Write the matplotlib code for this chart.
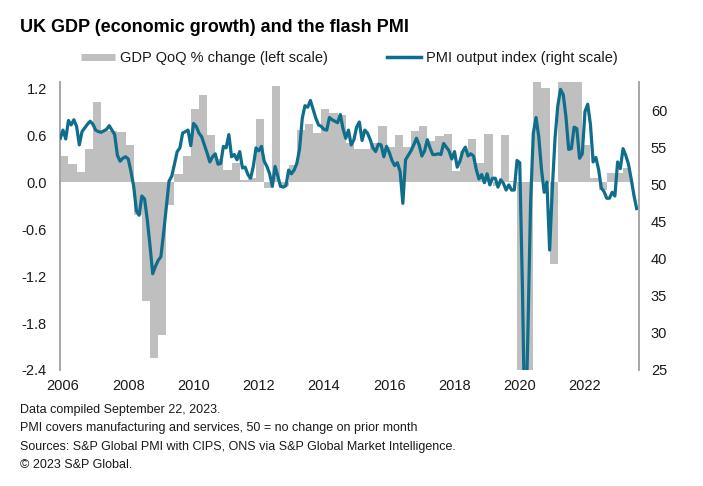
import matplotlib.pyplot as plt
from matplotlib.lines import Line2D

plt.rcParams['font.family'] = ['Liberation Sans', 'DejaVu Sans']

# GDP QoQ % change, quarterly from 2006 Q1 to 2023 Q2
gdp_start = 2006
gdp_qoq = [
    0.34, 0.23, 0.13, 0.43,      # 2006
    1.02, 0.65, 0.65, 0.64,      # 2007
    0.47, -0.42, -1.52, -2.25,   # 2008
    -1.95, -0.29, 0.10, 0.34,    # 2009
    0.93, 1.12, 0.60, 0.30,      # 2010
    0.15, 0.25, 0.03, 0.05,      # 2011
    0.81, -0.07, 1.23, -0.05,    # 2012
    0.22, 0.67, 0.74, 0.63,      # 2013
    0.93, 0.89, 0.86, 0.50,      # 2014
    0.42, 0.42, 0.50, 0.72,      # 2015
    0.45, 0.60, 0.45, 0.65,      # 2016
    0.72, 0.52, 0.59, 0.61,      # 2017
    0.14, 0.40, 0.55, 0.25,      # 2018
    0.62, -0.05, 0.60, 0.02,     # 2019
    -2.6, -21.0, 16.9, 1.20,     # 2020
    -1.05, 7.1, 1.7, 1.5,        # 2021
    0.48, 0.05, -0.10, 0.12,     # 2022
    0.12, 0.18,                  # 2023
]

# PMI output index, monthly from Jan 2006 to Sep 2023
pmi_start = 2006
pmi = [
    56.3, 57.4, 56.2, 58.7, 58.1, 58.8, 57.9, 55.4, 57.2, 57.7, 58.2, 58.6,  # 2006
    58.2, 57.4, 57.2, 57.1, 57.3, 57.5, 58.0, 57.4, 56.8, 54.0, 53.2, 53.6,  # 2007
    53.8, 53.5, 51.8, 49.8, 46.5, 45.9, 48.5, 48.1, 45.3, 41.8, 38.0, 39.0,  # 2008
    39.8, 40.3, 43.5, 47.0, 50.5, 51.2, 52.8, 54.5, 55.0, 57.0, 57.2, 57.4,  # 2009
    55.3, 58.3, 57.9, 57.0, 56.5, 55.4, 54.3, 53.1, 53.8, 54.2, 52.8, 52.9,  # 2010
    55.2, 55.0, 56.8, 53.8, 54.1, 53.4, 54.5, 52.3, 52.4, 51.4, 50.9, 52.5,  # 2011
    55.0, 54.6, 55.2, 53.2, 52.5, 51.5, 49.8, 52.5, 51.2, 49.8, 49.7, 49.9,  # 2012
    52.0, 51.5, 52.0, 52.9, 54.8, 59.0, 60.7, 60.5, 61.4, 60.2, 59.0, 58.1,  # 2013
    57.9, 57.5, 57.4, 59.1, 58.8, 58.6, 58.4, 59.5, 57.6, 56.3, 57.4, 55.4,  # 2014
    56.1, 57.8, 58.5, 56.0, 57.4, 57.0, 56.1, 55.0, 54.5, 55.5, 55.4, 53.8,  # 2015
    55.2, 54.4, 53.3, 52.6, 53.0, 51.8, 47.5, 53.4, 54.0, 54.6, 55.4, 56.3,  # 2016
    55.4, 53.9, 54.6, 56.1, 55.0, 54.1, 54.1, 54.2, 54.1, 55.6, 55.1, 54.6,  # 2017
    53.5, 54.5, 52.4, 53.2, 54.5, 55.1, 53.9, 54.2, 53.9, 52.1, 50.8, 51.4,  # 2018
    50.3, 51.5, 50.0, 50.9, 50.9, 49.7, 50.7, 50.2, 49.3, 50.0, 49.3, 49.3,  # 2019
    53.3, 53.0, 36.0, 13.8, 30.0, 47.7, 57.0, 59.1, 56.5, 52.1, 49.0, 50.4,  # 2020
    41.2, 49.6, 56.4, 60.7, 62.9, 62.2, 59.2, 54.8, 54.9, 57.8, 57.6, 53.6,  # 2021
    54.2, 59.9, 60.9, 58.2, 53.1, 53.7, 52.1, 49.6, 49.1, 48.2, 48.2, 49.0,  # 2022
    48.5, 53.1, 52.2, 54.9, 54.0, 52.8, 50.8, 48.6, 46.8,                    # 2023
]

year_labels = [2006, 2008, 2010, 2012, 2014, 2016, 2018, 2020, 2022]
left_ticks = [-2.4, -1.8, -1.2, -0.6, 0.0, 0.6, 1.2]
right_ticks = [25, 30, 35, 40, 45, 50, 55, 60]

footnotes = [
    'Data compiled September 22, 2023.',
    'PMI covers manufacturing and services, 50 = no change on prior month',
    'Sources: S&P Global PMI with CIPS, ONS via S&P Global Market Intelligence.',
    '\u00a9 2023 S&P Global.',
]

bar_color = '#bfbfbf'
line_color = '#0f6e8c'
spine_color = '#a6a6a6'
text_color = '#1a1a1a'

fig = plt.figure(figsize=(7.03, 4.86), dpi=100)
ax = fig.add_axes([0.0853, 0.2387, 0.8237, 0.5926])

q_x = [gdp_start + i * 0.25 for i in range(len(gdp_qoq))]
ax.bar(q_x, gdp_qoq, width=0.25, align='edge', color=bar_color, linewidth=0)
ax.set_ylim(-2.4, 1.28)
ax.set_yticks(left_ticks)
ax.set_yticklabels(['%.1f' % v for v in left_ticks])
ax.set_xlim(2005.99, 2023.74)
ax.set_xticks([y + 0.08 for y in year_labels])
ax.set_xticklabels([str(y) for y in year_labels])

ax2 = ax.twinx()
m_x = [pmi_start + i / 12 for i in range(len(pmi))]
ax2.plot(m_x, pmi, color=line_color, lw=2.3, solid_joinstyle='round')
ax2.set_ylim(25, 63.9)
ax2.set_yticks(right_ticks)
ax2.set_xlim(2005.99, 2023.74)

for a in (ax, ax2):
    for s in a.spines.values():
        s.set_visible(False)
ax.spines['left'].set_visible(True)
ax.spines['left'].set_color(spine_color)
ax.spines['left'].set_linewidth(1.4)
ax2.spines['right'].set_visible(True)
ax2.spines['right'].set_color(spine_color)
ax2.spines['right'].set_linewidth(1.4)

ax.tick_params(axis='y', length=0, pad=9.5, labelsize=10.5, labelcolor=text_color)
ax.tick_params(axis='x', length=0, pad=6.5, labelsize=10.5, labelcolor=text_color)
ax2.tick_params(axis='y', length=0, pad=8.5, labelsize=10.5, labelcolor=text_color)

handles = [Line2D([], [], color=bar_color, lw=5, solid_capstyle='butt'),
           Line2D([], [], color=line_color, lw=2.5)]
labels = ['GDP QoQ % change (left scale)', 'PMI output index (right scale)']
fig.legend(handles, labels, loc='center', bbox_to_anchor=(0.497, 0.881), ncol=2,
           frameon=False, fontsize=10.5, handlelength=2.3, handletextpad=0.35,
           columnspacing=4.1, labelcolor=text_color)

fig.text(0.0285, 0.944, 'UK GDP (economic growth) and the flash PMI',
         fontsize=13, fontweight='bold', va='center', ha='left', color='black')

for k, line in enumerate(footnotes):
    fig.text(0.0285, 0.156 - k * 0.0375, line, fontsize=9, va='center', ha='left',
             color=text_color)

fig.savefig('out.png', dpi=100)
